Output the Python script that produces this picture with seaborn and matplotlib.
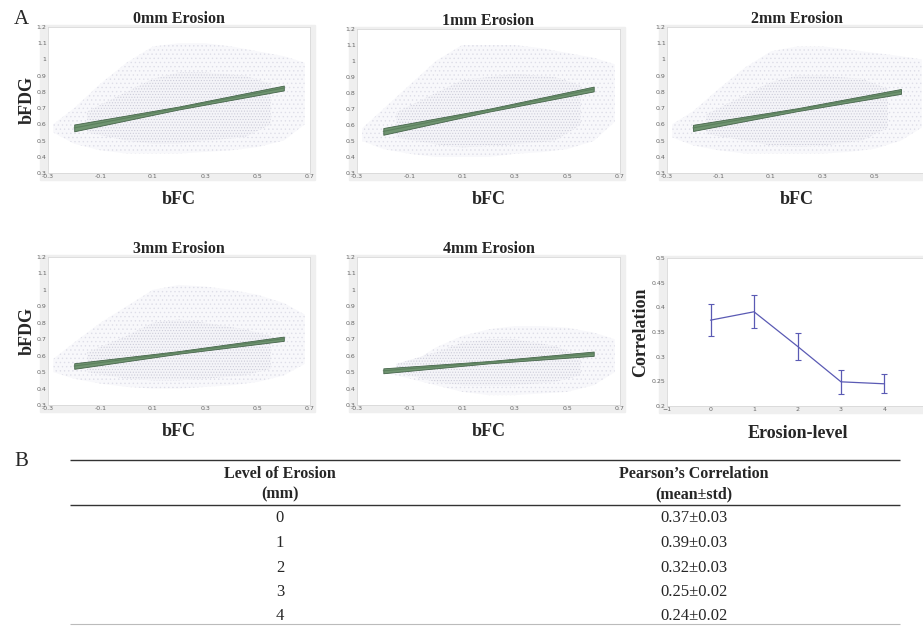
import numpy as np
import pandas as pd
import matplotlib.pyplot as plt
from matplotlib.patches import Rectangle
import seaborn as sns

sns.set_style("white")
plt.rcParams['font.family'] = ['Liberation Serif', 'DejaVu Serif']
plt.rcParams['hatch.linewidth'] = 0.5

# panel titles
titles = ['0mm Erosion', '1mm Erosion', '2mm Erosion', '3mm Erosion', '4mm Erosion']

# scatter cloud: outer envelope of the faint points
cloud_x = [-0.28, -0.2, -0.1, 0.0, 0.1, 0.2, 0.3, 0.4, 0.5, 0.6, 0.68]
cloud_lo = [
    [0.55, 0.48, 0.44, 0.42, 0.42, 0.42, 0.43, 0.44, 0.46, 0.50, 0.60],
    [0.50, 0.45, 0.42, 0.40, 0.40, 0.40, 0.42, 0.43, 0.45, 0.50, 0.62],
    [0.52, 0.47, 0.44, 0.42, 0.42, 0.42, 0.42, 0.43, 0.45, 0.50, 0.58],
    [0.50, 0.46, 0.43, 0.41, 0.40, 0.40, 0.41, 0.42, 0.44, 0.48, 0.55],
    [0.50, 0.50, 0.46, 0.42, 0.38, 0.36, 0.36, 0.37, 0.38, 0.42, 0.50],
]
cloud_hi = [
    [0.60, 0.70, 0.85, 0.98, 1.08, 1.10, 1.10, 1.08, 1.05, 1.02, 0.98],
    [0.58, 0.70, 0.85, 1.00, 1.10, 1.10, 1.10, 1.08, 1.05, 1.02, 0.98],
    [0.60, 0.68, 0.82, 0.95, 1.05, 1.08, 1.08, 1.06, 1.04, 1.02, 1.00],
    [0.58, 0.68, 0.80, 0.90, 1.00, 1.03, 1.02, 1.00, 0.97, 0.92, 0.85],
    [0.50, 0.50, 0.55, 0.65, 0.72, 0.76, 0.78, 0.78, 0.77, 0.74, 0.70],
]
# denser core of the cloud
core_x = [-0.15, 0.0, 0.1, 0.2, 0.3, 0.45, 0.55]
core_lo = [
    [0.55, 0.50, 0.48, 0.48, 0.50, 0.52, 0.60],
    [0.52, 0.48, 0.46, 0.47, 0.48, 0.50, 0.60],
    [0.54, 0.50, 0.47, 0.46, 0.47, 0.50, 0.58],
    [0.50, 0.46, 0.45, 0.45, 0.46, 0.48, 0.52],
    [0.50, 0.44, 0.42, 0.42, 0.42, 0.44, 0.48],
]
core_hi = [
    [0.68, 0.80, 0.88, 0.92, 0.92, 0.90, 0.85],
    [0.68, 0.80, 0.88, 0.90, 0.92, 0.90, 0.85],
    [0.66, 0.78, 0.86, 0.90, 0.90, 0.88, 0.82],
    [0.62, 0.72, 0.80, 0.82, 0.80, 0.76, 0.72],
    [0.55, 0.62, 0.68, 0.70, 0.70, 0.66, 0.60],
]

# regression fit: centre and half-width of the band at three x positions
fit_x = [-0.2, 0.2, 0.6]
fit_y = [
    [0.578, 0.701, 0.824],
    [0.560, 0.692, 0.825],
    [0.578, 0.690, 0.803],
    [0.537, 0.620, 0.703],
    [0.508, 0.560, 0.612],
]
fit_hw = [
    [0.021, 0.009, 0.015],
    [0.021, 0.009, 0.015],
    [0.019, 0.009, 0.015],
    [0.017, 0.008, 0.013],
    [0.015, 0.007, 0.013],
]

xticks = [-0.3, -0.1, 0.1, 0.3, 0.5, 0.7]
yticks = [0.3, 0.4, 0.5, 0.6, 0.7, 0.8, 0.9, 1.0, 1.1, 1.2]

# correlation vs erosion level
erosion = [0, 1, 2, 3, 4]
corr_mean = [0.374, 0.391, 0.321, 0.249, 0.245]
corr_err = [0.033, 0.033, 0.027, 0.024, 0.019]
corr_xticks = [-1, 0, 1, 2, 3, 4]
corr_yticks = [0.2, 0.25, 0.3, 0.35, 0.4, 0.45, 0.5]

# table
tab_level = ['0', '1', '2', '3', '4']
tab_corr = ['0.37\u00b10.03', '0.39\u00b10.03', '0.32\u00b10.03', '0.25\u00b10.02', '0.24\u00b10.02']

W, H = 923, 626
fig = plt.figure(figsize=(W / 100, H / 100), dpi=100)


def rect(l, t, r, b):
    return [l / W, 1 - b / H, (r - l) / W, (b - t) / H]


def frame(l, t, r, b):
    # light grey MATLAB-like frame behind the axes
    fig.patches.append(Rectangle(((l - 8) / W, 1 - (b + 7) / H), (r - l + 13) / W, (b - t + 9) / H,
                                 transform=fig.transFigure, color='#efefef', zorder=-1))


def style_ax(ax):
    for s in ax.spines.values():
        s.set_color('#d8d8d8')
        s.set_linewidth(0.6)
    ax.tick_params(direction='in', length=2, width=0.5, color='#888888',
                   labelsize=4.5, labelcolor='#666666', pad=1)
    for lab in ax.get_xticklabels() + ax.get_yticklabels():
        lab.set_family('DejaVu Sans')


boxes = [(48, 27, 310, 173), (357, 29, 620, 173), (667, 27, 927, 173),
         (48, 257, 310, 405), (357, 257, 620, 405)]

for i, box in enumerate(boxes):
    frame(*box)
    ax = fig.add_axes(rect(*box))
    ax.fill_between(cloud_x, cloud_lo[i], cloud_hi[i], facecolor='#f8f8fb', edgecolor='#dedee8',
                    hatch='....', linewidth=0, zorder=1)
    ax.fill_between(core_x, core_lo[i], core_hi[i], facecolor='#f4f4f8', edgecolor='#cdcdda',
                    hatch='......', linewidth=0, zorder=1.5)
    fit = pd.DataFrame({'x': fit_x, 'y': fit_y[i], 'hw': fit_hw[i]})
    ax.fill_between(fit['x'], fit['y'] - fit['hw'], fit['y'] + fit['hw'],
                    facecolor='#6f9470', edgecolor='#45644a', linewidth=0.6, zorder=3)
    sns.lineplot(data=fit, x='x', y='y', ax=ax, color='#5b805d', linewidth=0.8, zorder=4)
    ax.set_xlim(-0.3, 0.7)
    ax.set_ylim(0.3, 1.2)
    ax.set_xticks(xticks)
    labels = [f'{v:g}' for v in xticks]
    if box[2] > W:
        labels[-1] = ''  # falls outside the picture
    ax.set_xticklabels(labels)
    ax.set_yticks(yticks)
    ax.set_yticklabels([f'{v:g}' for v in yticks])
    ax.set_title(titles[i], fontsize=11.5, fontweight='bold', pad=3)
    ax.set_xlabel('bFC', fontsize=13, fontweight='bold', labelpad=8)
    if i in (0, 3):
        ax.set_ylabel('bFDG', fontsize=13, fontweight='bold', labelpad=1)
    else:
        ax.set_ylabel('')
    style_ax(ax)

# correlation panel
cbox = (667, 258, 928, 406)
frame(*cbox)
ax = fig.add_axes(rect(*cbox))
cdf = pd.DataFrame({'level': erosion, 'corr': corr_mean, 'err': corr_err})
sns.lineplot(data=cdf, x='level', y='corr', ax=ax, color='#5a5ab4', linewidth=0.9)
ax.errorbar(cdf['level'], cdf['corr'], yerr=cdf['err'], fmt='none', ecolor='#5a5ab4',
            elinewidth=0.9, capsize=2, capthick=0.8)
ax.set_xlim(-1, 5)
ax.set_ylim(0.2, 0.5)
ax.set_xticks(corr_xticks)
ax.set_yticks(corr_yticks)
ax.set_yticklabels([f'{v:g}' for v in corr_yticks])
ax.set_xlabel('Erosion-level', fontsize=13, fontweight='bold', labelpad=9)
ax.set_ylabel('Correlation', fontsize=13, fontweight='bold', labelpad=2)
style_ax(ax)

# panel letters
fig.text(14 / W, 1 - 19 / H, 'A', fontsize=15, va='center', ha='left')
fig.text(14 / W, 1 - 461 / H, 'B', fontsize=15, va='center', ha='left')

# table B in pixel coordinates
tax = fig.add_axes([0, 0, 1, 1], zorder=-2)
tax.set_xlim(0, W)
tax.set_ylim(H, 0)
tax.axis('off')
col1, col2 = 280, 694
tax.hlines([460, 505], 70, 900, color='#333333', linewidth=1.0)
tax.hlines([624], 70, 900, color='#bbbbbb', linewidth=0.8)
tax.text(col1, 474, 'Level of Erosion', ha='center', va='center', fontsize=11.5, fontweight='bold')
tax.text(col1, 494, '(mm)', ha='center', va='center', fontsize=11.5, fontweight='bold')
tax.text(col2, 474, 'Pearson\u2019s Correlation', ha='center', va='center', fontsize=11.5, fontweight='bold')
tax.text(col2, 494, '(mean\u00b1std)', ha='center', va='center', fontsize=11.5, fontweight='bold')
row_y = [518, 543, 568, 592, 616]
for yy, a, b in zip(row_y, tab_level, tab_corr):
    tax.text(col1, yy, a, ha='center', va='center', fontsize=12)
    tax.text(col2, yy, b, ha='center', va='center', fontsize=12)

fig.savefig('out.png', dpi=100)
